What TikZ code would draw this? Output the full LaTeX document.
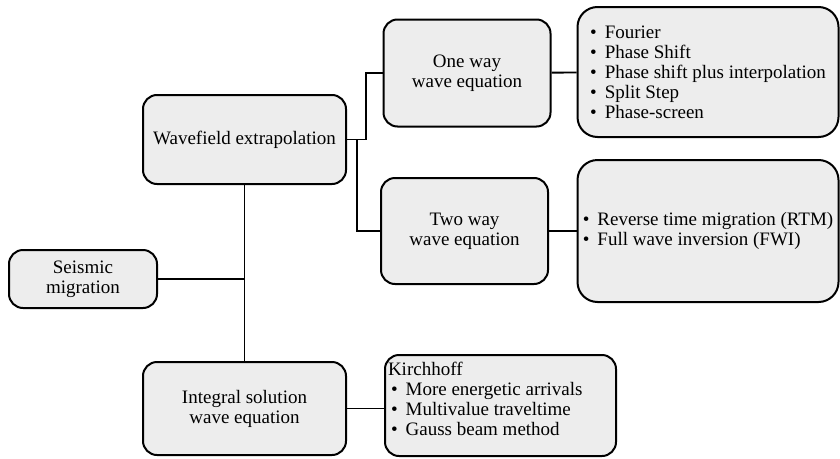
\documentclass[tikz,border=0pt]{standalone}
\usepackage{fontspec}
\setmainfont{Liberation Serif}
\usetikzlibrary{positioning}

\newcommand{\bitem}[1]{\textbullet\hspace{8pt}#1}

\begin{document}
\begin{tikzpicture}[
                x=1pt, y=-1pt,
                font=\fontsize{19}{20}\selectfont,
                block/.style={rectangle, draw, line width=2pt, fill=gray!14, text centered, rounded corners=14pt, inner sep=2pt},
                list_block/.style={block, align=left, rounded corners=20pt},
                line/.style={draw, line width=1.8pt}
            ]
                \useasboundingbox (0,0) rectangle (840,458);

                % Place nodes
                \node [block, minimum width=148pt, minimum height=58pt, align=center] (S_mig) at (83,279) {Seismic\\migration};
                \node [block, minimum width=203pt, minimum height=89pt] (S_wave) at (244.5,139.5) {Wavefield extrapolation};
                \node [block, minimum width=203pt, minimum height=93pt, align=center] (S_int) at (244.5,408.5) {Integral solution\\wave equation};

                \node [block, minimum width=167pt, minimum height=107pt, align=center] (S_one) at (467,73) {One way\\wave equation};
                \node [block, minimum width=167pt, minimum height=106pt, align=center] (S_two) at (464.5,231) {Two way\\wave equation};

                \node [list_block, minimum width=261pt, minimum height=130pt] (S_oneList) at (708,72)
                    {\bitem{Fourier}\\\bitem{Phase Shift}\\\bitem{Phase shift plus interpolation}\\\bitem{Split Step}\\\bitem{Phase-screen}};
                \node [list_block, minimum width=261pt, minimum height=142pt] (S_twoList) at (708,231)
                    {\bitem{Reverse time migration (RTM)}\\\bitem{Full wave inversion (FWI)}};
                \node [block, rounded corners=14pt, anchor=north west, inner sep=0pt] (S_kirch) at (384,354)
                    {\parbox[t][101pt][t]{231pt}{\raggedright\hspace*{3pt}\rule{0pt}{20pt}Kirchhoff\\
                     \hspace*{6pt}\bitem{More energetic arrivals}\\
                     \hspace*{6pt}\bitem{Multivalue traveltime}\\
                     \hspace*{6pt}\bitem{Gauss beam method}}};

                % Draw edges
                \path [line] (S_wave) -- (S_int);
                \path [line] (S_mig) -- (S_mig -| S_wave.south);
                \path [line] (S_wave.east) -- ++(19,0) |- (S_one.west);
                \path [line] ([xshift=10pt]S_wave.east) |- (S_two.west);
                \path [line] (S_one) -- (S_oneList);
                \path [line] (S_two) -- (S_twoList);
                \path [line] (S_int.east) -- (S_int.east -| S_kirch.west);

            \end{tikzpicture}
\end{document}
